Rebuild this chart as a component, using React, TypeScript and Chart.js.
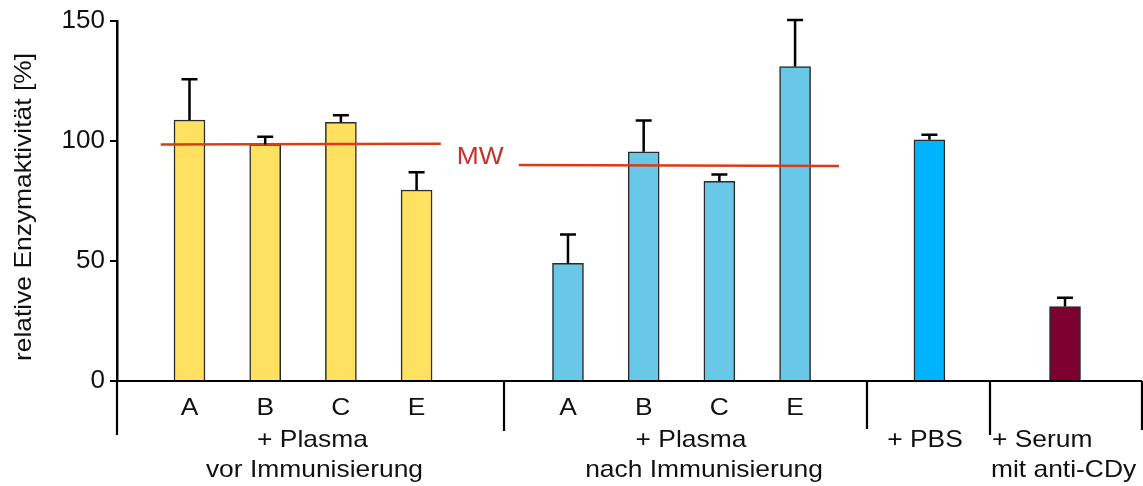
import React, { useEffect, useRef } from "react";
import { Chart, registerables } from "chart.js";

Chart.register(...registerables);

// ---- data ----
const barSlots = [1, 2, 3, 4, 6, 7, 8, 9, 10.775, 12.566];
const barLetters = ["A", "B", "C", "E", "A", "B", "C", "E", "", ""];
const barValues = [108.75, 98.5, 107.8, 79.6, 49.0, 95.5, 83.2, 131.0, 100.5, 31.0];
const barErrors = [17.0, 3.3, 2.9, 7.4, 12.0, 13.0, 2.8, 19.4, 2.1, 3.7];

const mwVorX = [0.62, 4.32];
const mwVorY = [98.5, 98.9];
const mwNachX = [5.35, 9.58];
const mwNachY = [90.0, 89.6];
const mwLabelPos = [4.84, 93.3];

const yTicks = [0, 50, 100, 150];

const groupLine1 = ["+ Plasma", "+ Plasma", "+ PBS", "+ Serum"];
const groupLine1X = [2.625, 7.625, 10.716, 11.6];
const groupLine2 = ["vor Immunisierung", "nach Immunisierung", "", "mit anti-CDy"];
const groupLine2X = [2.651, 7.797, 10.716, 11.588];
const groupAlign = ["center", "center", "center", "left"];

const separatorX = [5.155, 9.95, 11.575, 13.583];

const yTitle = "relative Enzymaktivität [%]";

// ---- styles ----
const barColors = [
  "#FEE160", "#FEE160", "#FEE160", "#FEE160",
  "#69C7E8", "#69C7E8", "#69C7E8", "#69C7E8",
  "#00B3FF", "#7C0030",
];
const FONT = '"Liberation Sans", Arial, sans-serif';
const TEXT = "#111";
const STRETCH = 1.1;
const separatorDrop = [50, 48, 54, 49];

function drawText(
  ctx: CanvasRenderingContext2D,
  text: string,
  x: number,
  y: number,
  size: number,
  align: CanvasTextAlign,
  color: string,
  rotate = 0
) {
  ctx.save();
  ctx.translate(x, y);
  if (rotate) ctx.rotate(rotate);
  ctx.scale(STRETCH, 1);
  ctx.font = `${size}px ${FONT}`;
  ctx.fillStyle = color;
  ctx.textAlign = align;
  ctx.textBaseline = "middle";
  ctx.fillText(text, 0, 0);
  ctx.restore();
}

const decorPlugin = {
  id: "decor",
  afterDatasetsDraw(chart: any) {
    const ctx: CanvasRenderingContext2D = chart.ctx;
    const ys = chart.scales.y;
    const meta = chart.getDatasetMeta(0);
    ctx.save();
    ctx.strokeStyle = "#000";
    ctx.lineWidth = 2.5;
    meta.data.forEach((el: any, i: number) => {
      const top = ys.getPixelForValue(barValues[i] + barErrors[i]);
      ctx.beginPath();
      ctx.moveTo(el.x, el.y);
      ctx.lineTo(el.x, top);
      ctx.moveTo(el.x - 8, top);
      ctx.lineTo(el.x + 8, top);
      ctx.stroke();
    });
    ctx.restore();
  },
  afterDraw(chart: any) {
    const ctx: CanvasRenderingContext2D = chart.ctx;
    const xs = chart.scales.x;
    const ys = chart.scales.y;
    const area = chart.chartArea;
    const bottom = area.bottom;
    ctx.save();
    ctx.strokeStyle = "#000";
    ctx.lineWidth = 2.2;
    ctx.beginPath();
    ctx.moveTo(area.left - 7, bottom);
    ctx.lineTo(area.right, bottom);
    ctx.moveTo(area.left, bottom);
    ctx.lineTo(area.left, bottom + 54);
    separatorX.forEach((v, i) => {
      const px = xs.getPixelForValue(v);
      ctx.moveTo(px, bottom);
      ctx.lineTo(px, bottom + separatorDrop[i]);
    });
    ctx.stroke();
    ctx.restore();

    barLetters.forEach((t, i) => {
      if (!t) return;
      drawText(ctx, t, xs.getPixelForValue(barSlots[i]), bottom + 27, 24, "center", TEXT);
    });
    groupLine1.forEach((t, i) => {
      if (t) drawText(ctx, t, xs.getPixelForValue(groupLine1X[i]), bottom + 59, 24, groupAlign[i] as CanvasTextAlign, TEXT);
      const t2 = groupLine2[i];
      if (t2) drawText(ctx, t2, xs.getPixelForValue(groupLine2X[i]), bottom + 89, 24, groupAlign[i] as CanvasTextAlign, TEXT);
    });

    drawText(
      ctx,
      "MW",
      xs.getPixelForValue(mwLabelPos[0]),
      ys.getPixelForValue(mwLabelPos[1]),
      24,
      "center",
      "#C8302C"
    );

    drawText(ctx, yTitle, 24, (area.top + area.bottom) / 2 + 6, 24, "center", TEXT, -Math.PI / 2);
  },
};

export default function App() {
  const ref = useRef<HTMLCanvasElement | null>(null);

  useEffect(() => {
    if (!ref.current) return;
    const chart = new Chart(ref.current, {
      type: "bar",
      data: {
        datasets: [
          {
            type: "bar",
            label: "Enzymaktivität",
            data: barSlots.map((x, i) => ({ x, y: barValues[i] })),
            backgroundColor: barColors,
            borderColor: "#2a2a2a",
            borderWidth: 1.5,
            barThickness: 31,
            order: 2,
          } as any,
          {
            type: "line",
            label: "MW vor",
            data: mwVorX.map((x, i) => ({ x, y: mwVorY[i] })),
            borderColor: "#DC3C14",
            borderWidth: 2.5,
            pointRadius: 0,
            order: 1,
          } as any,
          {
            type: "line",
            label: "MW nach",
            data: mwNachX.map((x, i) => ({ x, y: mwNachY[i] })),
            borderColor: "#DC3C14",
            borderWidth: 2.5,
            pointRadius: 0,
            order: 1,
          } as any,
        ],
      },
      options: {
        animation: false,
        responsive: true,
        maintainAspectRatio: false,
        layout: { padding: { top: 21, right: 1, left: 0, bottom: 0 } },
        plugins: { legend: { display: false }, tooltip: { enabled: false } },
        scales: {
          x: {
            type: "linear",
            offset: false,
            min: 0.0423,
            max: 13.583,
            ticks: { display: false },
            grid: { display: false, offset: false },
            border: { display: false },
            afterFit: (s: any) => {
              s.height = 105;
            },
          },
          y: {
            type: "linear",
            min: 0,
            max: 150,
            afterBuildTicks: (s: any) => {
              s.ticks = yTicks.map((v) => ({ value: v }));
            },
            ticks: {
              font: { family: FONT, size: 26 },
              color: TEXT,
              padding: 5,
            },
            grid: {
              drawOnChartArea: false,
              drawTicks: true,
              tickLength: 7,
              color: "#000",
              lineWidth: 2,
            },
            border: { display: true, color: "#000", width: 2.5 },
            afterFit: (s: any) => {
              s.width = 117;
            },
          },
        },
      } as any,
      plugins: [decorPlugin],
    });
    return () => chart.destroy();
  }, []);

  return (
    <div style={{ position: "fixed", left: 0, top: 0, width: 1143, height: 486, background: "#fff" }}>
      <canvas ref={ref} />
    </div>
  );
}
